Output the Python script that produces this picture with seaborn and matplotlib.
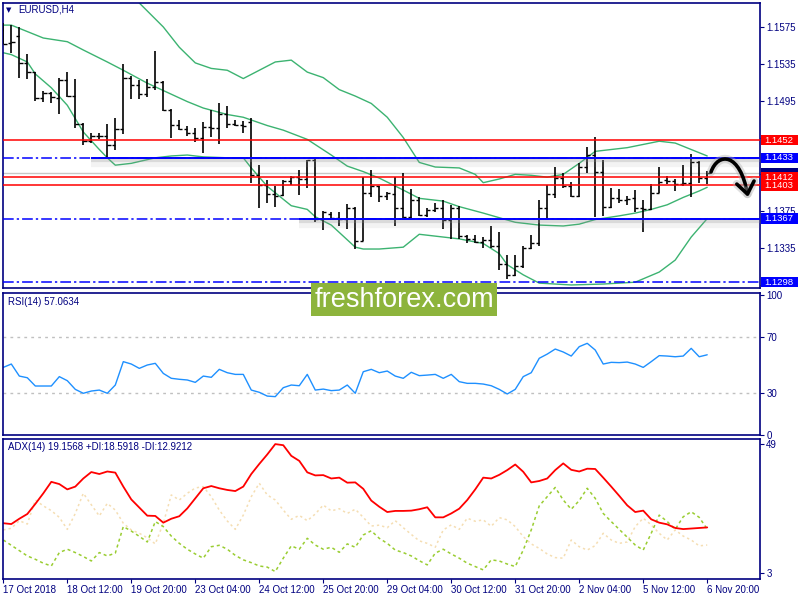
import numpy as np
import pandas as pd
import matplotlib
matplotlib.use('Agg')
import matplotlib.pyplot as plt
import matplotlib.patheffects as pe
from matplotlib.patches import Rectangle, FancyArrowPatch
from matplotlib.path import Path
from matplotlib.transforms import blended_transform_factory
import seaborn as sns

# =========================
# 1. DATA
# =========================
bar_open = [1.1572, 1.1558, 1.1565, 1.1536, 1.1526, 1.1498, 1.1503, 1.1498, 1.1517, 1.1500,
            1.1470, 1.1451, 1.1457, 1.1457, 1.1447, 1.1464, 1.1520, 1.1512, 1.1502, 1.1510,
            1.1515, 1.1485, 1.1469, 1.1464, 1.1460, 1.1455, 1.1466, 1.1465, 1.1481, 1.1470,
            1.1469, 1.1472, 1.1414, 1.1404, 1.1394, 1.1393, 1.1408, 1.1412, 1.1410, 1.1431,
            1.1367, 1.1372, 1.1368, 1.1367, 1.1379, 1.1343, 1.1395, 1.1402, 1.1392, 1.1394,
            1.1379, 1.1369, 1.1387, 1.1371, 1.1376, 1.1378, 1.1366, 1.1379, 1.1348, 1.1345,
            1.1342, 1.1344, 1.1337, 1.1318, 1.1306, 1.1316, 1.1335, 1.1341, 1.1379, 1.1394,
            1.1411, 1.1402, 1.1392, 1.1423, 1.1436, 1.1418, 1.1380, 1.1389, 1.1387, 1.1389,
            1.1379, 1.1377, 1.1395, 1.1409, 1.1408, 1.1405, 1.1406, 1.1428, 1.1411]
bar_high = [1.1579, 1.1577, 1.1575, 1.1546, 1.1526, 1.1505, 1.1504, 1.1520, 1.1526, 1.1518,
            1.1471, 1.1460, 1.1460, 1.1470, 1.1476, 1.1535, 1.1522, 1.1517, 1.1518, 1.1549,
            1.1516, 1.1486, 1.1474, 1.1467, 1.1465, 1.1472, 1.1485, 1.1493, 1.1489, 1.1474,
            1.1473, 1.1476, 1.1425, 1.1409, 1.1402, 1.1409, 1.1413, 1.1420, 1.1431, 1.1432,
            1.1375, 1.1374, 1.1374, 1.1383, 1.1380, 1.1412, 1.1420, 1.1402, 1.1396, 1.1412,
            1.1417, 1.1399, 1.1390, 1.1379, 1.1384, 1.1387, 1.1382, 1.1381, 1.1349, 1.1349,
            1.1347, 1.1359, 1.1353, 1.1328, 1.1328, 1.1337, 1.1349, 1.1387, 1.1404, 1.1423,
            1.1417, 1.1407, 1.1427, 1.1445, 1.1456, 1.1431, 1.1400, 1.1399, 1.1392, 1.1398,
            1.1387, 1.1405, 1.1423, 1.1413, 1.1410, 1.1425, 1.1437, 1.1430, 1.1419]
bar_low = [1.1556, 1.1547, 1.1520, 1.1519, 1.1495, 1.1494, 1.1493, 1.1481, 1.1499, 1.1465,
           1.1447, 1.1449, 1.1453, 1.1432, 1.1442, 1.1459, 1.1497, 1.1497, 1.1499, 1.1507,
           1.1484, 1.1455, 1.1463, 1.1457, 1.1450, 1.1438, 1.1456, 1.1448, 1.1465, 1.1468,
           1.1460, 1.1406, 1.1378, 1.1384, 1.1380, 1.1392, 1.1404, 1.1393, 1.1400, 1.1363,
           1.1355, 1.1366, 1.1359, 1.1356, 1.1334, 1.1343, 1.1391, 1.1385, 1.1387, 1.1359,
           1.1366, 1.1366, 1.1370, 1.1369, 1.1374, 1.1356, 1.1345, 1.1345, 1.1341, 1.1340,
           1.1335, 1.1335, 1.1311, 1.1301, 1.1305, 1.1313, 1.1334, 1.1337, 1.1366, 1.1389,
           1.1400, 1.1390, 1.1391, 1.1416, 1.1369, 1.1370, 1.1378, 1.1384, 1.1382, 1.1374,
           1.1352, 1.1376, 1.1395, 1.1405, 1.1397, 1.1402, 1.1391, 1.1406, 1.1405]
bar_close = [1.1557, 1.1559, 1.1536, 1.1526, 1.1498, 1.1503, 1.1499, 1.1517, 1.1500, 1.1470,
             1.1451, 1.1457, 1.1457, 1.1447, 1.1464, 1.1520, 1.1512, 1.1502, 1.1510, 1.1515,
             1.1485, 1.1469, 1.1464, 1.1460, 1.1455, 1.1466, 1.1465, 1.1481, 1.1470, 1.1469,
             1.1468, 1.1414, 1.1404, 1.1394, 1.1392, 1.1408, 1.1412, 1.1410, 1.1431, 1.1367,
             1.1374, 1.1368, 1.1367, 1.1379, 1.1343, 1.1395, 1.1402, 1.1392, 1.1395, 1.1379,
             1.1369, 1.1387, 1.1371, 1.1376, 1.1378, 1.1366, 1.1379, 1.1348, 1.1345, 1.1342,
             1.1344, 1.1337, 1.1318, 1.1306, 1.1316, 1.1335, 1.1341, 1.1379, 1.1394, 1.1411,
             1.1402, 1.1392, 1.1423, 1.1436, 1.1418, 1.1380, 1.1389, 1.1387, 1.1388, 1.1379,
             1.1377, 1.1395, 1.1407, 1.1408, 1.1405, 1.1406, 1.1428, 1.1411, 1.1417]

# Bollinger bands, read at a subset of bars
bb_upper_bar = [15, 17, 20, 22, 24, 26, 28, 30, 32, 34, 36, 38, 40, 42, 44, 46, 48, 50, 52, 54,
                57, 59, 60, 62, 64, 66, 68, 70, 72, 74, 78, 82, 84, 86, 88]
bb_upper = [1.1626, 1.1601, 1.1575, 1.1553, 1.1536, 1.1530, 1.1528, 1.1519, 1.1528, 1.1537,
            1.1539, 1.1526, 1.1520, 1.1507, 1.1500, 1.1492, 1.1477, 1.1455, 1.1428, 1.1423,
            1.1422, 1.1415, 1.1406, 1.1410, 1.1415, 1.1414, 1.1412, 1.1415, 1.1427, 1.1440,
            1.1444, 1.1451, 1.1449, 1.1442, 1.1435]
bb_mid_bar = [0, 1, 3, 5, 8, 10, 13, 15, 18, 20, 23, 25, 28, 30, 33, 35, 38, 41, 43, 45,
              47, 50, 52, 55, 57, 60, 62, 64, 67, 70, 72, 74, 77, 79, 81, 83, 85, 87, 88]
bb_mid = [1.1577, 1.1577, 1.1570, 1.1563, 1.1559, 1.1550, 1.1537, 1.1528, 1.1514, 1.1506,
          1.1494, 1.1487, 1.1480, 1.1477, 1.1468, 1.1463, 1.1453, 1.1436, 1.1424, 1.1418,
          1.1411, 1.1398, 1.1389, 1.1386, 1.1380, 1.1373, 1.1368, 1.1363, 1.1360, 1.1359,
          1.1361, 1.1366, 1.1370, 1.1373, 1.1377, 1.1382, 1.1390, 1.1397, 1.1401]
bb_lower_bar = [0, 1, 3, 4, 6, 8, 10, 12, 13, 14, 16, 19, 21, 23, 25, 28, 30, 31, 33, 34,
                36, 38, 39, 41, 44, 45, 47, 50, 52, 54, 57, 60, 62, 63, 65, 67, 71, 75, 79, 82,
                84, 86, 88]
bb_lower = [1.1547, 1.1545, 1.1537, 1.1524, 1.1509, 1.1490, 1.1461, 1.1442, 1.1433, 1.1425,
            1.1427, 1.1433, 1.1435, 1.1436, 1.1434, 1.1433, 1.1433, 1.1422, 1.1402, 1.1395,
            1.1381, 1.1377, 1.1369, 1.1360, 1.1336, 1.1334, 1.1334, 1.1336, 1.1350, 1.1348,
            1.1345, 1.1340, 1.1329, 1.1317, 1.1306, 1.1297, 1.1295, 1.1296, 1.1298, 1.1309,
            1.1322, 1.1347, 1.1367]

rsi = [48.1, 50.5, 41.9, 40.7, 34.8, 34.8, 34.8, 41.5, 38.6, 32.4,
       29.6, 31.2, 31.9, 29.6, 35.5, 52.2, 50.5, 47.4, 49.8, 51.0,
       43.8, 40.3, 39.6, 39.1, 37.4, 41.9, 41.0, 46.7, 44.3, 43.1,
       43.1, 31.9, 30.3, 27.6, 27.2, 33.6, 35.5, 35.0, 43.1, 31.9,
       32.6, 31.5, 31.9, 35.5, 29.6, 45.0, 46.7, 44.3, 45.5, 41.9,
       40.3, 44.6, 42.2, 42.6, 43.1, 40.3, 43.1, 37.9, 36.7, 36.7,
       36.2, 35.0, 32.4, 29.1, 32.4, 41.5, 44.3, 54.6, 57.6, 61.2,
       59.1, 56.2, 62.9, 65.3, 60.5, 50.5, 51.7, 51.5, 51.9, 50.5,
       48.1, 52.2, 56.5, 56.2, 55.7, 56.2, 61.7, 55.7, 57.1]

adx = [20.7, 20.4, 22.3, 24.0, 27.6, 31.4, 35.5, 34.7, 32.8, 33.8,
       36.7, 39.0, 38.3, 39.2, 38.8, 33.8, 29.2, 26.3, 23.4, 23.3,
       20.9, 22.3, 23.2, 26.0, 29.6, 33.2, 34.0, 33.2, 32.6, 32.2,
       33.8, 38.3, 41.9, 45.3, 49.0, 48.6, 44.8, 43.0, 38.9, 37.8,
       37.9, 36.7, 37.0, 35.2, 35.3, 33.0, 28.8, 26.6, 24.7, 25.1,
       25.1, 25.2, 25.7, 26.4, 22.8, 22.8, 24.2, 25.9, 29.0, 32.8,
       37.0, 36.7, 38.0, 39.7, 41.7, 39.1, 35.3, 35.8, 36.7, 39.7,
       42.1, 39.8, 39.2, 40.2, 40.1, 37.0, 33.8, 30.5, 27.1, 24.7,
       25.2, 22.1, 20.9, 20.3, 19.0, 18.6, 18.8, 19.0, 19.2]
plus_di = [14.7, 12.8, 10.9, 9.0, 7.8, 6.4, 5.4, 10.2, 11.4, 10.2,
           8.8, 7.2, 10.2, 9.0, 10.0, 19.5, 17.9, 16.0, 14.0, 21.3,
           19.5, 16.1, 13.5, 11.4, 9.7, 8.2, 12.3, 12.8, 11.4, 9.2,
           7.6, 6.6, 5.4, 5.0, 3.4, 8.2, 12.6, 11.4, 15.3, 12.9,
           11.4, 12.1, 10.3, 13.3, 12.1, 16.5, 18.0, 15.3, 13.5, 11.1,
           10.2, 9.0, 7.3, 5.8, 10.0, 11.4, 9.7, 8.2, 6.4, 5.2,
           4.0, 7.6, 7.2, 6.1, 5.2, 11.1, 18.3, 26.9, 30.2, 33.5,
           29.0, 25.7, 28.8, 33.2, 29.6, 24.2, 21.3, 18.5, 15.7, 12.9,
           11.1, 17.1, 23.6, 21.3, 18.5, 23.0, 24.8, 22.8, 18.6]
minus_di = [18.3, 18.9, 21.6, 20.4, 29.0, 26.9, 25.2, 22.8, 18.5, 24.2,
            31.4, 27.3, 23.3, 27.8, 25.4, 20.7, 18.3, 17.1, 15.5, 13.3,
            20.7, 30.8, 29.0, 31.4, 33.3, 33.8, 30.2, 25.4, 21.5, 18.5,
            23.6, 30.2, 35.0, 30.8, 29.0, 25.4, 22.1, 23.5, 21.6, 24.0,
            27.2, 25.1, 25.9, 24.2, 25.7, 22.8, 19.7, 20.0, 19.1, 21.6,
            19.1, 16.7, 14.4, 13.5, 12.1, 18.3, 20.1, 18.5, 22.5, 21.4,
            21.9, 19.6, 22.7, 21.9, 19.5, 15.9, 13.3, 11.7, 9.7, 8.4,
            8.2, 14.7, 12.3, 11.1, 12.7, 17.1, 14.7, 13.5, 14.0, 19.5,
            22.5, 20.1, 17.1, 14.7, 18.3, 16.1, 14.7, 12.6, 12.9]

date_label_bars = [0, 8, 16, 24, 32, 40, 48, 56, 64, 72, 80, 88]
date_labels = ['17 Oct 2018', '18 Oct 12:00', '19 Oct 20:00', '23 Oct 04:00',
               '24 Oct 12:00', '25 Oct 20:00', '29 Oct 04:00', '30 Oct 12:00',
               '31 Oct 20:00', '2 Nov 04:00', '5 Nov 12:00', '6 Nov 20:00']

# ticks at 1.1455 / 1.1415 / 1.1295 sit under the coloured price tags
price_ticks = [1.1295, 1.1335, 1.1375, 1.1415, 1.1455, 1.1495, 1.1535, 1.1575]
price_tick_labels = ['', '1.1335', '1.1375', '', '', '1.1495', '1.1535', '1.1575']
rsi_ticks = [0, 30, 70, 100]
rsi_levels = [30, 70]
adx_ticks = [3, 49]

red_levels = [1.1452, 1.1412, 1.1403]
blue_levels = [1.1433, 1.1367, 1.1298]
blue_trend_levels = [1.1433, 1.1367]
blue_trend_start = [11, 37]
bid_price = 1.1416

# right-hand price tags, in drawing order (bid tag is covered by the red ones)
tag_values = [1.1403, 1.1412, 1.1452, 1.1433, 1.1367, 1.1298]
tag_colors = ['#ff0000', '#ff0000', '#ff0000', '#0000ff', '#0000ff', '#0000ff']

# =========================
# 2. FIGURE SETUP
# =========================
NAVY = '#000080'
BB_GREEN = '#3cb371'

sns.set_theme(style='white')
plt.rcParams['font.family'] = ['Liberation Sans', 'DejaVu Sans']

fig = plt.figure(figsize=(8, 6), dpi=100)
fig.patch.set_facecolor('white')

ax_p = fig.add_axes([3 / 800, 312 / 600, 757 / 800, 285 / 600])
ax_r = fig.add_axes([3 / 800, 165 / 600, 757 / 800, 142.5 / 600])
ax_a = fig.add_axes([3 / 800, 21 / 600, 757 / 800, 140.5 / 600])

bars = np.arange(len(bar_close))
ohlc = pd.DataFrame({'bar': bars, 'open': bar_open, 'high': bar_high,
                     'low': bar_low, 'close': bar_close})

# =========================
# 3. PRICE PANEL
# =========================
for xs, ys in [(bb_upper_bar, bb_upper), (bb_mid_bar, bb_mid), (bb_lower_bar, bb_lower)]:
    sns.lineplot(x=xs, y=ys, ax=ax_p, color=BB_GREEN, lw=1, zorder=2)

ax_p.vlines(ohlc['bar'], ohlc['low'], ohlc['high'], color='black', lw=1.2, zorder=3)
ax_p.hlines(ohlc['open'], ohlc['bar'] - 0.4, ohlc['bar'], color='black', lw=1, zorder=3)
ax_p.hlines(ohlc['close'], ohlc['bar'], ohlc['bar'] + 0.4, color='black', lw=1, zorder=3)

ax_p.axhline(bid_price, color='#c8c8c8', lw=1, zorder=1)
for lv in red_levels:
    ax_p.axhline(lv, color='red', lw=1.1, zorder=4)
for lv in blue_levels:
    ax_p.axhline(lv, color='blue', lw=1.1, ls=(0, (7, 2, 1.5, 2)), zorder=4)

shadow = [pe.SimpleLineShadow(offset=(0, -1.5), shadow_color='#909090', alpha=0.25, linewidth=3),
          pe.SimpleLineShadow(offset=(0, -4), shadow_color='#909090', alpha=0.1, linewidth=6),
          pe.Normal()]
for lv, start in zip(blue_trend_levels, blue_trend_start):
    ax_p.hlines(lv, start, 95, color='blue', lw=1.4, zorder=5, path_effects=shadow)


def style_panel(ax, ylim, ticks, labels=None):
    ax.set_xlim(-0.04, 94.6)
    ax.set_ylim(*ylim)
    ax.yaxis.tick_right()
    ax.set_yticks(ticks)
    if labels is not None:
        ax.set_yticklabels(labels)
    ax.tick_params(axis='y', right=True, left=False, length=3, width=0.8,
                   color=NAVY, labelcolor=NAVY, labelsize=7, pad=1.5)
    ax.set_xticks([])
    ax.set_xlabel('')
    ax.set_ylabel('')
    for s in ax.spines.values():
        s.set_color(NAVY)
        s.set_linewidth(1.2)


style_panel(ax_p, (1.12917, 1.16010), price_ticks, price_tick_labels)

trans = blended_transform_factory(ax_p.transAxes, ax_p.transData)
box_h = 0.00112
# navy bid tag, almost fully hidden behind the red tags
ax_p.add_patch(Rectangle((1.0015, bid_price - box_h / 2), 0.049, box_h, transform=trans,
                         facecolor=NAVY, edgecolor='none', clip_on=False, zorder=9))
for k, (val, col) in enumerate(zip(tag_values, tag_colors)):
    ax_p.add_patch(Rectangle((1.0015, val - box_h / 2), 0.049, box_h, transform=trans,
                             facecolor=col, edgecolor='none', clip_on=False, zorder=10 + 2 * k))
    ax_p.text(1.0055, val, f'{val:.4f}', transform=trans, color='white', fontsize=6.8,
              va='center', ha='left', clip_on=False, zorder=11 + 2 * k)

# =========================
# 4. RSI PANEL
# =========================
for lv in rsi_levels:
    ax_r.axhline(lv, color='#c0c0c0', lw=1, ls=(0, (2, 3)))
sns.lineplot(x=bars, y=rsi, ax=ax_r, color='#1e90ff', lw=1)
style_panel(ax_r, (-0.2, 101.6), rsi_ticks)

# =========================
# 5. ADX PANEL
# =========================
sns.lineplot(x=bars, y=minus_di, ax=ax_a, color='#f5deb3', lw=1.1, ls=(0, (1.5, 2)))
sns.lineplot(x=bars, y=plus_di, ax=ax_a, color='#9acd32', lw=1.1, ls=(0, (2, 2)))
sns.lineplot(x=bars, y=adx, ax=ax_a, color='red', lw=1.3)
style_panel(ax_a, (0.75, 51.0), adx_ticks)
ax_a.set_xticks(date_label_bars)
ax_a.set_xticklabels(date_labels, ha='left')
ax_a.tick_params(axis='x', bottom=True, length=3, width=0.8, color=NAVY,
                 labelcolor=NAVY, labelsize=7, pad=1)

# =========================
# 6. TEXT, WATERMARK, ARROW
# =========================
fig.text(9 / 800, 1 - 10 / 600, '▼', fontsize=5, color=NAVY, ha='center', va='center',
         family='DejaVu Sans')
fig.text(18 / 800, 1 - 10 / 600, 'EURUSD,H4', fontsize=7, color=NAVY, va='center')
fig.text(8 / 800, 1 - 302 / 600, 'RSI(14) 57.0634', fontsize=7, color=NAVY, va='center')
fig.text(8 / 800, 1 - 447 / 600, 'ADX(14) 19.1568 +DI:18.5918 -DI:12.9212', fontsize=7,
         color=NAVY, va='center')

fig.add_artist(Rectangle((311 / 800, 1 - 316 / 600), 186 / 800, 33 / 600,
                         transform=fig.transFigure, facecolor='#8db43c', edgecolor='none',
                         zorder=20))
fig.text(404 / 800, 1 - 300 / 600, 'freshforex.com', color='white', fontsize=19.5,
         ha='center', va='center', zorder=21)

arrow_pts = [(711, 172), (718, 152), (740, 152), (748, 197)]
arrow_path = Path([(x / 800, 1 - y / 600) for x, y in arrow_pts],
                  [Path.MOVETO, Path.CURVE4, Path.CURVE4, Path.CURVE4])
arrow = FancyArrowPatch(path=arrow_path, transform=fig.transFigure,
                        arrowstyle='->,head_length=0.6,head_width=0.45', mutation_scale=14,
                        lw=2.6, color='black', zorder=22,
                        path_effects=[pe.Stroke(linewidth=6, foreground='#b0b0b0', alpha=0.4),
                                      pe.Normal()])
fig.add_artist(arrow)

fig.savefig('out.png', dpi=100)
